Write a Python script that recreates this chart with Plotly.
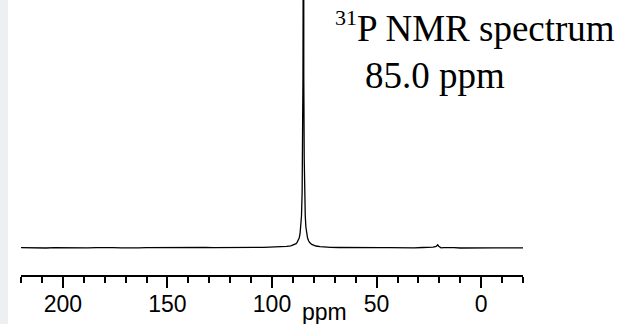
import plotly.graph_objects as go

# Spectrum (ppm, intensity in arbitrary units, baseline ~0)
ppm = [220, 216, 212, 208, 204, 200, 196, 192, 188, 184, 180, 176, 172, 168, 164,
       160, 156, 152, 148, 144, 140, 136, 132, 128, 124, 120, 116, 112, 108, 104,
       100, 97, 95, 93, 91, 90, 89, 88.5, 88, 87.5, 87, 86.6, 86.2, 85.9, 85.6,
       85.4, 85.2, 85.1, 85.0, 84.9, 84.8, 84.6, 84.4, 84.1, 83.8, 83.4, 83.0,
       82.5, 82, 81, 80, 79, 77, 75, 72, 68, 64, 60, 56, 52, 48, 44, 40, 36, 32,
       28, 25, 23, 21.5, 20.8, 20.3, 19.8, 19.2, 18, 16, 13, 10, 6, 2, -2, -6,
       -10, -14, -18, -20]
intensity = [0.3, 0.1, 0.4, 0.0, 0.3, 0.2, -0.1, 0.3, 0.1, 0.4, 0.0, 0.3, 0.2, 0.5,
             0.1, 0.3, 0.4, 0.2, 0.5, 0.3, 0.1, 0.4, 0.6, 0.3, 0.5, 0.4, 0.6, 0.5,
             0.7, 0.6, 0.8, 0.9, 1.2, 1.6, 2.2, 2.8, 3.6, 4.4, 5.6, 7.5, 10, 14, 21,
             32, 55, 90, 170, 280, 1400, 280, 170, 90, 55, 32, 21, 14, 10, 7.2, 5.4,
             3.6, 2.6, 2.0, 1.4, 1.0, 0.7, 0.5, 0.6, 0.3, 0.5, 0.2, 0.4, 0.3, 0.1,
             0.4, 0.2, 0.5, 0.4, 0.8, 1.5, 3.2, 1.8, 0.6, 0.2, 0.4, 0.1, 0.3, 0.0,
             0.2, 0.3, 0.0, 0.2, 0.1, 0.3, 0.0, 0.1]

x_ticks = [200, 150, 100, 50, 0]
x_range = [220, -20]
title_text = '<sup><span style="font-size:22px">31</span></sup>P NMR spectrum'
shift_text = "85.0 ppm"
axis_title = "ppm"

fig = go.Figure()
fig.add_trace(go.Scatter(x=ppm, y=intensity, mode="lines",
                         line=dict(color="black", width=1.3),
                         hoverinfo="skip", showlegend=False))

fig.update_layout(
    width=622, height=324,
    margin=dict(l=21, r=99, t=0, b=49, autoexpand=False),
    paper_bgcolor="white", plot_bgcolor="white",
    showlegend=False,
    xaxis=dict(range=x_range, tickvals=x_ticks, ticks="outside", ticklen=11,
               tickwidth=1.5, tickcolor="black", showline=True, linecolor="black",
               linewidth=2, showgrid=False, zeroline=False, automargin=False,
               ticklabelstandoff=-4,
               tickfont=dict(family="Liberation Sans, Arial", size=23, color="black"),
               minor=dict(dtick=10, tick0=0, ticks="outside", ticklen=6,
                          tickwidth=1.5, tickcolor="black", showgrid=False)),
    yaxis=dict(range=[-27, 248], visible=False, showgrid=False, zeroline=False),
    shapes=[dict(type="rect", xref="paper", yref="paper", x0=-0.042, x1=-0.026,
                 y0=-0.2, y1=1.0, fillcolor="#eeeff3", line=dict(width=0),
                 layer="below")],
    annotations=[
        dict(text=title_text, xref="paper", yref="paper", x=0.6215, y=0.9036,
             xanchor="left", yanchor="middle", showarrow=False,
             font=dict(family="Liberation Serif, Times New Roman", size=37, color="black")),
        dict(text=shift_text, xref="paper", yref="paper", x=0.681, y=0.725,
             xanchor="left", yanchor="middle", showarrow=False,
             font=dict(family="Liberation Serif, Times New Roman", size=37, color="black")),
        dict(text=axis_title, xref="x", yref="paper", x=75, y=-0.19,
             xanchor="center", yanchor="bottom", showarrow=False,
             font=dict(family="Liberation Sans, Arial", size=23, color="black")),
    ],
)

fig.write_html("out.html", config={"displayModeBar": False},
               post_script="document.body.style.margin='0px';")
